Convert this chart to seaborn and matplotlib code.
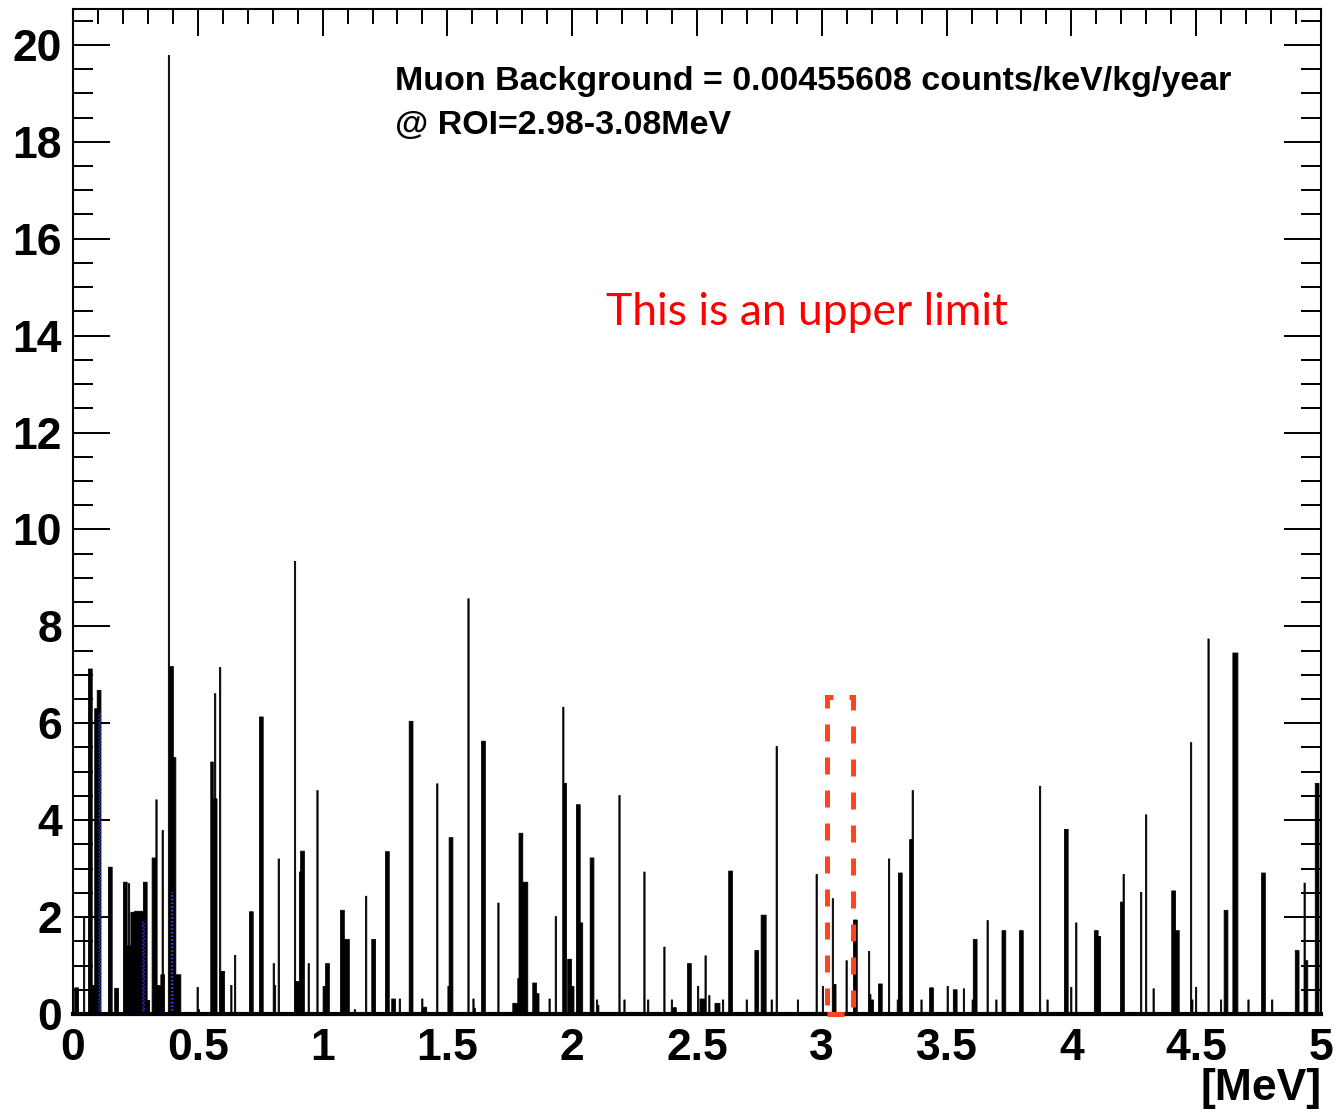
import numpy as np
import pandas as pd
import matplotlib
matplotlib.use("Agg")
import matplotlib.pyplot as plt
import seaborn as sns
from matplotlib.patches import Rectangle
from matplotlib.ticker import MultipleLocator

# ---- data: 5 keV bin centres (MeV) and counts ----
energy_mev = [
    0.0075, 0.0125, 0.0175, 0.0425, 0.0625, 0.0675, 0.0725, 0.0775, 0.0825,
    0.0875, 0.0925, 0.0975, 0.1025, 0.1075, 0.1425, 0.1475, 0.1525,
    0.1675, 0.1725, 0.1775, 0.2025, 0.2075, 0.2125, 0.2175, 0.2225, 0.2275,
    0.2325, 0.2375, 0.2425, 0.2475, 0.2525, 0.2575, 0.2625, 0.2675, 0.2725, 0.2775,
    0.2825, 0.2875, 0.2925, 0.2975, 0.3025, 0.3175, 0.3225, 0.3275, 0.3325,
    0.3375, 0.3425, 0.3475, 0.3525, 0.3575, 0.3625, 0.3825, 0.3875, 0.3925, 0.3975,
    0.4025, 0.4075, 0.4125, 0.4175, 0.4225, 0.4275, 0.4975, 0.5025,
    0.5525, 0.5575, 0.5625, 0.5675, 0.5725, 0.5875, 0.5925, 0.5975, 0.6025,
    0.6325, 0.6475, 0.7075, 0.7125, 0.7175, 0.7475, 0.7525, 0.7575,
    0.8025, 0.8075, 0.8225, 0.8875, 0.8925, 0.8975, 0.9025, 0.9075,
    0.9125, 0.9175, 0.9225, 0.9425, 0.9775,
    1.0025, 1.0075, 1.0125, 1.0175, 1.0225, 1.0725, 1.0775, 1.0825,
    1.0875, 1.0925, 1.0975, 1.1025, 1.1275, 1.1725, 1.1975, 1.2025, 1.2075,
    1.2525, 1.2575, 1.2625, 1.2775, 1.2825, 1.2875, 1.3075,
    1.3475, 1.3525, 1.3575, 1.3975, 1.4025, 1.4075, 1.4125, 1.4575,
    1.5025, 1.5075, 1.5125, 1.5175, 1.5825, 1.6025, 1.6075,
    1.6375, 1.6425, 1.6475, 1.7025, 1.7625, 1.7675, 1.7725, 1.7775, 1.7825,
    1.7875, 1.7925, 1.7975, 1.8025, 1.8075, 1.8125, 1.8175,
    1.8425, 1.8475, 1.8525, 1.8575, 1.8625, 1.9075, 1.9325,
    1.9625, 1.9675, 1.9725, 1.9825, 1.9875, 1.9925, 1.9975, 2.0025,
    2.0175, 2.0225, 2.0275, 2.0325, 2.0375, 2.0725, 2.0775, 2.0825,
    2.0975, 2.1025, 2.1875, 2.2075, 2.2875, 2.3025, 2.3675,
    2.3975, 2.4025, 2.4075, 2.4125, 2.4625, 2.4675, 2.4725, 2.5025,
    2.5125, 2.5175, 2.5225, 2.5275, 2.5325, 2.5475,
    2.5725, 2.5775, 2.5825, 2.5875, 2.6025, 2.6275, 2.6325, 2.6375, 2.6975,
    2.7325, 2.7375, 2.7425, 2.7575, 2.7625, 2.7675, 2.7725, 2.7975, 2.8175,
    2.9025, 2.9775, 3.0025, 3.0425, 3.0475, 3.0525, 3.0975,
    3.1275, 3.1325, 3.1375, 3.1875, 3.1925, 3.1975, 3.2025,
    3.2275, 3.2325, 3.2375, 3.2675, 3.3025, 3.3075, 3.3125, 3.3175,
    3.3525, 3.3575, 3.3625, 3.3975, 3.4325, 3.4375, 3.4425, 3.5025,
    3.5275, 3.5325, 3.5375, 3.5675, 3.6025, 3.6075, 3.6125, 3.6175,
    3.6625, 3.6975, 3.7225, 3.7275, 3.7325, 3.7925, 3.7975, 3.8025, 3.8725,
    3.9025, 3.9725, 3.9775, 3.9825, 3.9975, 4.0175,
    4.0925, 4.0975, 4.1025, 4.1075, 4.1125, 4.1975, 4.2025, 4.2075,
    4.2775, 4.2975, 4.3275, 4.4025, 4.4075, 4.4125, 4.4175, 4.4225, 4.4275,
    4.4775, 4.4825, 4.4975, 4.5475, 4.5975, 4.6125, 4.6175, 4.6225,
    4.6475, 4.6525, 4.6575, 4.6625, 4.7075, 4.7625, 4.7675, 4.7725, 4.8025,
    4.8975, 4.9025, 4.9075, 4.9325, 4.9375, 4.9425, 4.9775, 4.9825, 4.9875,
]
counts = [
    0.55, 0.55, 0.55, 2.0, 7.13, 7.13, 7.13, 0.6, 0.6,
    6.31, 6.31, 6.69, 6.69, 6.69, 3.04, 3.04, 3.04,
    0.54, 0.54, 0.54, 2.73, 2.73, 2.73, 1.42, 2.70, 1.42,
    2.11, 2.11, 2.11, 2.13, 2.13, 2.13, 2.13, 2.13, 2.13, 2.13,
    2.73, 2.73, 2.73, 0.29, 0.29, 3.23, 3.23, 3.23, 4.43,
    0.6, 0.6, 0.6, 0.82, 3.8, 0.82, 19.79, 7.18, 7.18, 7.18,
    5.3, 5.3, 0.82, 0.82, 0.82, 0.82, 0.56, 0.1,
    5.21, 5.21, 4.45, 6.62, 4.45, 7.16, 0.89, 0.89, 0.89,
    0.6, 1.22, 2.12, 2.12, 2.12, 6.14, 6.14, 6.14,
    1.05, 0.6, 3.21, 9.35, 0.68, 0.68, 0.68, 2.94,
    3.37, 3.37, 3.37, 1.05, 4.62,
    0.58, 0.58, 1.05, 1.05, 1.05, 2.15, 2.15, 2.15,
    1.55, 1.55, 1.55, 1.55, 0.1, 2.44, 1.55, 1.55, 1.55,
    3.36, 3.36, 3.36, 0.32, 0.32, 0.32, 0.32,
    6.05, 6.05, 6.05, 0.32, 0.15, 0.15, 0.15, 4.76,
    0.58, 3.65, 3.65, 3.65, 8.58, 0.32, 0.13,
    5.64, 5.64, 5.64, 2.3, 0.23, 0.23, 0.23, 0.23, 0.74,
    3.74, 3.74, 3.74, 2.73, 2.73, 2.73, 2.73,
    0.65, 0.65, 0.65, 0.43, 0.43, 0.32, 2.02,
    6.34, 4.77, 4.77, 1.14, 1.14, 1.14, 0.58, 0.58,
    4.33, 4.33, 4.33, 1.89, 1.89, 3.23, 3.23, 3.23,
    0.3, 0.19, 4.52, 0.3, 2.94, 0.3, 1.39,
    0.3, 0.14, 0.14, 0.14, 1.05, 1.05, 1.05, 0.58,
    0.32, 0.32, 0.32, 0.32, 1.21, 0.39,
    0.23, 0.23, 0.23, 0.23, 0.3, 2.96, 2.96, 2.96, 0.3,
    1.32, 1.32, 1.32, 2.05, 2.05, 2.05, 2.05, 0.3, 5.53,
    0.3, 2.89, 0.58, 2.39, 0.62, 0.62, 1.11,
    1.95, 1.95, 1.95, 1.3, 0.41, 0.3, 0.3,
    0.63, 0.63, 0.63, 3.21, 0.3, 2.92, 2.92, 2.92,
    3.61, 3.61, 4.62, 0.3, 0.55, 0.55, 0.55, 0.58,
    0.51, 0.51, 0.51, 0.53, 0.3, 1.55, 1.55, 1.55,
    1.94, 0.3, 1.73, 1.73, 1.73, 1.73, 1.73, 1.73, 4.71,
    0.3, 3.82, 3.82, 3.82, 0.56, 1.89,
    1.73, 1.73, 1.73, 1.61, 1.61, 2.32, 2.32, 2.89,
    2.52, 4.12, 0.53, 2.55, 2.55, 2.55, 1.73, 1.73, 1.73,
    5.61, 0.3, 0.56, 7.75, 0.3, 2.15, 2.15, 2.15,
    7.46, 7.46, 7.46, 7.46, 0.3, 2.92, 2.92, 2.92, 0.3,
    1.32, 1.32, 1.32, 2.71, 1.11, 1.11, 4.77, 4.77, 4.77,
]
blue_energy_mev = [0.1075, 0.2825, 0.3975]
blue_counts = [6.2, 1.9, 2.5]

x_tick_values = [0, 0.5, 1, 1.5, 2, 2.5, 3, 3.5, 4, 4.5, 5]
x_tick_labels = ["0", "0.5", "1", "1.5", "2", "2.5", "3", "3.5", "4", "4.5", "5"]
y_tick_values = [0, 2, 4, 6, 8, 10, 12, 14, 16, 18, 20]
y_tick_labels = ["0", "2", "4", "6", "8", "10", "12", "14", "16", "18", "20"]
x_unit_label = "[MeV]"
info_lines = ["Muon Background = 0.00455608 counts/keV/kg/year", "@ ROI=2.98-3.08MeV"]
note_text = "This is an upper limit"
roi_box_low, roi_box_high, roi_box_top = 3.021, 3.125, 6.54

# ---- style ----
sns.set_theme(style="white")
plt.rcParams["font.family"] = ["Liberation Sans", "DejaVu Sans"]

W, H = 1336, 1117
fig = plt.figure(figsize=(W / 100, H / 100), dpi=100)
ax = fig.add_axes([73 / W, 1 - 1014 / H, (1321 - 73) / W, (1014 - 9) / H])

df = pd.DataFrame({"energy": energy_mev, "counts": counts})
sns.histplot(data=df, x="energy", weights="counts", binwidth=0.005, binrange=(0, 5),
             element="step", fill=True, color="black", alpha=1.0, linewidth=0.6, ax=ax)
dfb = pd.DataFrame({"energy": blue_energy_mev, "counts": blue_counts})
sns.histplot(data=dfb, x="energy", weights="counts", binwidth=0.005, binrange=(0, 5),
             element="step", fill=False, color="#3344ff", linestyle=":",
             linewidth=1.0, ax=ax)

ax.set_xlim(0, 5)
ax.set_ylim(0, 20.74)
ax.set_xlabel("")
ax.set_ylabel("")

ax.set_xticks(x_tick_values, x_tick_labels)
ax.set_yticks(y_tick_values, y_tick_labels)
ax.xaxis.set_minor_locator(MultipleLocator(0.1))
ax.yaxis.set_minor_locator(MultipleLocator(0.5))
ax.tick_params(axis="x", which="both", direction="in", bottom=False, top=True,
               labelbottom=True, labeltop=False, color="black")
ax.tick_params(axis="x", which="major", length=19.4, width=1.4, labelsize=32, pad=10)
ax.tick_params(axis="x", which="minor", length=10.8, width=1.4)
ax.tick_params(axis="y", which="both", direction="in", left=True, right=True, color="black")
ax.tick_params(axis="y", which="major", length=26.6, width=1.4, labelsize=32, pad=8)
ax.tick_params(axis="y", which="minor", length=14.4, width=1.4)
for lab in ax.get_xticklabels() + ax.get_yticklabels():
    lab.set_fontweight("bold")
    lab.set_color("black")

for side in ["left", "top", "right"]:
    ax.spines[side].set_linewidth(1.5)
    ax.spines[side].set_color("black")
ax.spines["bottom"].set_linewidth(3.0)
ax.spines["bottom"].set_color("black")

ax.add_patch(Rectangle((roi_box_low, 0), roi_box_high - roi_box_low, roi_box_top,
                       fill=False, edgecolor="#ff4422", linewidth=3.6,
                       linestyle=(0, (3.4, 3.2)), zorder=6, clip_on=False))

fig.text(395 / W, 1 - 90 / H, info_lines[0], fontsize=24.5, fontweight="bold",
         ha="left", va="baseline", color="black")
fig.text(395 / W, 1 - 134 / H, info_lines[1], fontsize=24.5, fontweight="bold",
         ha="left", va="baseline", color="black")
fig.text(606 / W, 1 - 325 / H, note_text, fontsize=32, color="red",
         family=["Lato", "DejaVu Sans"], ha="left", va="baseline")
fig.text(1322 / W, 1 - 1100 / H, x_unit_label, fontsize=32, fontweight="bold",
         ha="right", va="baseline", color="black")

fig.savefig("out.png", dpi=100)
